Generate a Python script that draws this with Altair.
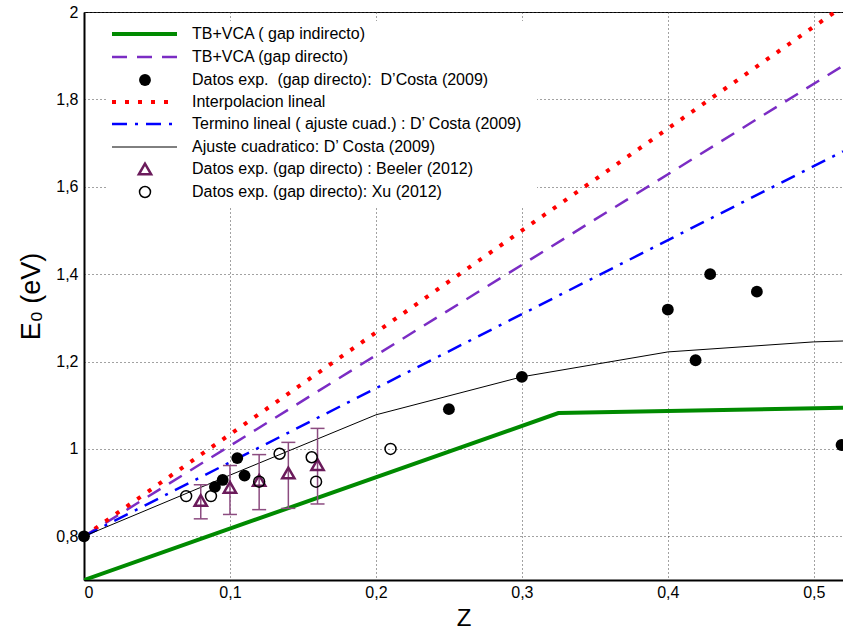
import altair as alt
import pandas as pd

# ---------------- data ----------------
green_z = [0.0, 0.325, 0.52]
green_e = [0.70, 1.082, 1.094]

purple_z = [0.0, 0.52]
purple_e = [0.80, 1.877]

red_z = [0.0, 0.52]
red_e = [0.80, 2.013]

blue_z = [0.0, 0.52]
blue_e = [0.80, 1.681]

black_z = [0.0, 0.1, 0.2, 0.3, 0.4, 0.5, 0.52]
black_e = [0.80, 0.940, 1.078, 1.165, 1.222, 1.245, 1.247]

dcosta_z = [0.0, 0.0897, 0.095, 0.105, 0.110, 0.25, 0.30, 0.40, 0.419, 0.429, 0.461, 0.519]
dcosta_e = [0.80, 0.913, 0.929, 0.979, 0.939, 1.091, 1.165, 1.319, 1.203, 1.40, 1.36, 1.009]

xu_z = [0.070, 0.087, 0.120, 0.134, 0.156, 0.159, 0.210]
xu_e = [0.892, 0.892, 0.925, 0.989, 0.981, 0.925, 1.00]

beeler_z = [0.080, 0.100, 0.120, 0.140, 0.160]
beeler_e = [0.882, 0.912, 0.928, 0.945, 0.964]
beeler_lo = [0.840, 0.850, 0.861, 0.864, 0.874]
beeler_hi = [0.918, 0.962, 0.987, 1.015, 1.047]

x_ticks = [0.0, 0.1, 0.2, 0.3, 0.4, 0.5]
y_ticks = [0.8, 1.0, 1.2, 1.4, 1.6, 1.8, 2.0]

NB = "\u00a0"
legend_labels = [
    "TB+VCA ( gap indirecto)",
    "TB+VCA (gap directo)",
    "Datos exp." + NB + " (gap directo):" + NB + " D\u2019Costa (2009)",
    "Interpolacion lineal",
    "Termino lineal ( ajuste cuad.) : D\u2019 Costa (2009)",
    "Ajuste cuadratico: D\u2019 Costa (2009)",
    "Datos exp. (gap directo) : Beeler (2012)",
    "Datos exp. (gap directo): Xu (2012)",
]

# ---------------- styles ----------------
GREEN = "#008a00"
PURPLE = "#7b2cc4"
RED = "#ff0000"
BLUE = "#0000ff"
TRI = "#6b1b5b"
ERR = "#8c4c80"
FONT = "Liberation Sans"

xs = alt.Scale(domain=[0, 0.52], nice=False, zero=False)
ys = alt.Scale(domain=[0.7, 2.0], nice=False, zero=False)

X = alt.X(
    "z:Q", scale=xs,
    axis=alt.Axis(values=x_ticks, title="Z",
                  labelExpr="replace(toString(datum.value), '.', ',')"),
)
Y = alt.Y(
    "e:Q", scale=ys,
    axis=alt.Axis(values=y_ticks, title="E\u2080 (eV)",
                  labelExpr="replace(toString(datum.value), '.', ',')"),
)


def df(z, e):
    return pd.DataFrame({"z": z, "e": e})


layers = []

# legend background (covers grid lines)
layers.append(
    alt.Chart(pd.DataFrame({"a": [0]})).mark_rect(fill="white").encode(
        x=alt.value(22), x2=alt.value(453), y=alt.value(9), y2=alt.value(194)
    )
)

layers.append(alt.Chart(df(green_z, green_e)).mark_line(color=GREEN, strokeWidth=4, clip=True).encode(x=X, y=Y))
layers.append(alt.Chart(df(purple_z, purple_e)).mark_line(color=PURPLE, strokeWidth=2.5, strokeDash=[15, 10], clip=True).encode(x=X, y=Y))
layers.append(alt.Chart(df(red_z, red_e)).mark_line(color=RED, strokeWidth=4, strokeDash=[4, 9], strokeCap="butt", clip=True).encode(x=X, y=Y))
layers.append(alt.Chart(df(blue_z, blue_e)).mark_line(color=BLUE, strokeWidth=2.5, strokeDash=[15, 8, 3, 8], clip=True).encode(x=X, y=Y))
layers.append(alt.Chart(df(black_z, black_e)).mark_line(color="black", strokeWidth=1, clip=True).encode(x=X, y=Y))

# Beeler error bars
beeler = pd.DataFrame({"z": beeler_z, "e": beeler_e, "lo": beeler_lo, "hi": beeler_hi})
layers.append(alt.Chart(beeler).mark_rule(color=ERR, strokeWidth=1.5).encode(x=X, y=alt.Y("lo:Q", scale=ys), y2="hi:Q"))
layers.append(alt.Chart(beeler).mark_rule(color=ERR, strokeWidth=1.5, xOffset=-7, x2Offset=7).encode(x=X, x2="z:Q", y=alt.Y("lo:Q", scale=ys)))
layers.append(alt.Chart(beeler).mark_rule(color=ERR, strokeWidth=1.5, xOffset=-7, x2Offset=7).encode(x=X, x2="z:Q", y=alt.Y("hi:Q", scale=ys)))
layers.append(alt.Chart(beeler).mark_point(shape="triangle-up", size=150, filled=False, color=TRI, strokeWidth=2.5, opacity=1).encode(x=X, y=Y))

layers.append(alt.Chart(df(xu_z, xu_e)).mark_point(shape="circle", size=120, filled=False, color="black", strokeWidth=1.5, opacity=1).encode(x=X, y=Y))
layers.append(alt.Chart(df(dcosta_z, dcosta_e)).mark_point(shape="circle", size=140, filled=True, color="black", opacity=1).encode(x=X, y=Y))

# ---------------- manual legend ----------------
row_y = [22, 45, 68, 90, 112, 135, 157, 180]
sym_x0, sym_x1, sym_xc, lab_x = 28, 93, 61, 108
one = pd.DataFrame({"a": [0]})

line_styles = {
    0: dict(color=GREEN, strokeWidth=4),
    1: dict(color=PURPLE, strokeWidth=2.5, strokeDash=[15, 10]),
    3: dict(color=RED, strokeWidth=4, strokeDash=[4, 9], strokeCap="butt"),
    4: dict(color=BLUE, strokeWidth=2.5, strokeDash=[15, 8, 3, 8]),
    5: dict(color="black", strokeWidth=1),
}
for i, st in line_styles.items():
    layers.append(alt.Chart(one).mark_rule(**st).encode(
        x=alt.value(sym_x0), x2=alt.value(sym_x1), y=alt.value(row_y[i])))

layers.append(alt.Chart(one).mark_point(shape="circle", size=140, filled=True, color="black", opacity=1).encode(
    x=alt.value(sym_xc), y=alt.value(row_y[2])))
layers.append(alt.Chart(one).mark_point(shape="triangle-up", size=150, filled=False, color=TRI, strokeWidth=2.5, opacity=1).encode(
    x=alt.value(sym_xc), y=alt.value(row_y[6])))
layers.append(alt.Chart(one).mark_point(shape="circle", size=120, filled=False, color="black", strokeWidth=1.5, opacity=1).encode(
    x=alt.value(sym_xc), y=alt.value(row_y[7])))

for i, lab in enumerate(legend_labels):
    layers.append(alt.Chart(pd.DataFrame({"label": [lab]})).mark_text(
        align="left", baseline="middle", font=FONT, fontSize=16, color="black").encode(
        x=alt.value(lab_x), y=alt.value(row_y[i]), text="label:N"))

chart = alt.layer(*layers).properties(
    width=759, height=568,
    autosize=alt.AutoSizeParams(type="none"),
    padding={"left": 84, "top": 12, "right": 0, "bottom": 57},
).configure_view(
    stroke="black", strokeWidth=1
).configure_axis(
    grid=True, gridColor="#444444", gridDash=[1, 3], gridWidth=1,
    domainColor="black", domainWidth=2, ticks=False,
    labelFont=FONT, labelFontSize=16, labelColor="black",
    titleFont=FONT, titleFontSize=24, titleFontWeight="normal", titleColor="black",
).configure_axisX(
    labelPadding=4, titlePadding=6,
).configure_axisY(
    labelPadding=6, titlePadding=10, titleFontSize=27,
)

chart.save("out.html", embed_options={"renderer": "svg", "actions": False})
